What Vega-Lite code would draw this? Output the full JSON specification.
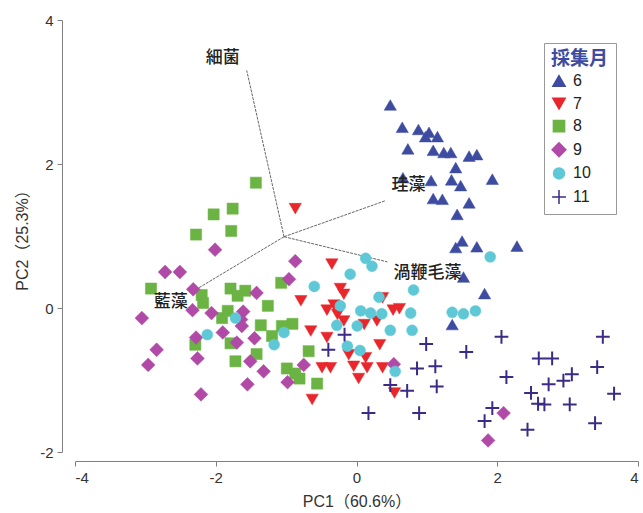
{
  "$schema": "https://vega.github.io/schema/vega-lite/v6.json",
  "width": 563,
  "height": 432,
  "autosize": "none",
  "padding": {"left": 75, "top": 20, "right": 5, "bottom": 61},
  "background": "white",
  "config": {
    "view": {"stroke": null},
    "axis": {
      "grid": false,
      "domainColor": "#808080",
      "tickColor": "#808080",
      "tickSize": 5,
      "labelFont": "Liberation Sans",
      "labelFontSize": 15,
      "labelColor": "#333333",
      "labelPadding": 4,
      "labelExpr": "toString(datum.value)",
      "titleFont": "Liberation Sans, Noto Sans CJK JP",
      "titleFontSize": 16,
      "titleFontWeight": "normal",
      "titleColor": "#333333"
    }
  },
  "datasets": {
    "pts": [
      {"m": "6", "x": 0.48, "y": 2.82}, {"m": "6", "x": 0.65, "y": 2.51}, {"m": "6", "x": 0.88, "y": 2.48},
      {"m": "6", "x": 1.03, "y": 2.44}, {"m": "6", "x": 0.98, "y": 2.38}, {"m": "6", "x": 1.15, "y": 2.38},
      {"m": "6", "x": 0.73, "y": 2.21}, {"m": "6", "x": 1.09, "y": 2.19}, {"m": "6", "x": 1.24, "y": 2.16},
      {"m": "6", "x": 1.34, "y": 2.16}, {"m": "6", "x": 1.60, "y": 2.11}, {"m": "6", "x": 1.71, "y": 2.13},
      {"m": "6", "x": 1.41, "y": 1.95}, {"m": "6", "x": 0.66, "y": 1.81}, {"m": "6", "x": 1.06, "y": 1.77},
      {"m": "6", "x": 1.35, "y": 1.78}, {"m": "6", "x": 1.48, "y": 1.70}, {"m": "6", "x": 1.93, "y": 1.79},
      {"m": "6", "x": 1.09, "y": 1.52}, {"m": "6", "x": 1.22, "y": 1.51}, {"m": "6", "x": 1.60, "y": 1.46},
      {"m": "6", "x": 1.43, "y": 1.30}, {"m": "6", "x": 1.50, "y": 0.93}, {"m": "6", "x": 1.41, "y": 0.84},
      {"m": "6", "x": 1.71, "y": 0.85}, {"m": "6", "x": 2.28, "y": 0.86}, {"m": "6", "x": 1.52, "y": 0.43},
      {"m": "6", "x": 1.82, "y": 0.20}, {"m": "6", "x": 1.36, "y": -0.23},
      {"m": "7", "x": -0.87, "y": 1.38}, {"m": "7", "x": -0.35, "y": 0.61}, {"m": "7", "x": -0.23, "y": 0.27},
      {"m": "7", "x": -0.18, "y": 0.19}, {"m": "7", "x": -0.79, "y": 0.10}, {"m": "7", "x": -0.42, "y": -0.03},
      {"m": "7", "x": -0.32, "y": 0.04}, {"m": "7", "x": -0.27, "y": -0.09}, {"m": "7", "x": -0.18, "y": -0.18},
      {"m": "7", "x": 0.37, "y": 0.14}, {"m": "7", "x": 0.52, "y": -0.03}, {"m": "7", "x": 0.61, "y": -0.01},
      {"m": "7", "x": 0.11, "y": -0.23}, {"m": "7", "x": 0.29, "y": -0.18}, {"m": "7", "x": -0.65, "y": -0.32},
      {"m": "7", "x": -0.42, "y": -0.41}, {"m": "7", "x": 0.33, "y": -0.51}, {"m": "7", "x": -0.11, "y": -0.65},
      {"m": "7", "x": 0.13, "y": -0.69}, {"m": "7", "x": -0.49, "y": -0.83}, {"m": "7", "x": -0.37, "y": -0.83},
      {"m": "7", "x": -0.04, "y": -0.81}, {"m": "7", "x": 0.15, "y": -0.83}, {"m": "7", "x": 0.37, "y": -0.83},
      {"m": "7", "x": 0.03, "y": -0.98}, {"m": "7", "x": 0.54, "y": -1.18}, {"m": "7", "x": -0.63, "y": -1.27},
      {"m": "8", "x": -1.43, "y": 1.74}, {"m": "8", "x": -1.76, "y": 1.38}, {"m": "8", "x": -2.03, "y": 1.30},
      {"m": "8", "x": -1.78, "y": 1.07}, {"m": "8", "x": -2.28, "y": 1.02}, {"m": "8", "x": -2.92, "y": 0.27},
      {"m": "8", "x": -1.07, "y": 0.35}, {"m": "8", "x": -1.79, "y": 0.27}, {"m": "8", "x": -1.58, "y": 0.24},
      {"m": "8", "x": -1.69, "y": 0.17}, {"m": "8", "x": -2.20, "y": 0.18}, {"m": "8", "x": -2.18, "y": 0.07},
      {"m": "8", "x": -1.26, "y": 0.03}, {"m": "8", "x": -1.83, "y": -0.04}, {"m": "8", "x": -1.91, "y": -0.14},
      {"m": "8", "x": -1.36, "y": -0.24}, {"m": "8", "x": -1.06, "y": -0.25}, {"m": "8", "x": -0.91, "y": -0.22},
      {"m": "8", "x": -1.20, "y": -0.39}, {"m": "8", "x": -2.29, "y": -0.51}, {"m": "8", "x": -1.79, "y": -0.49},
      {"m": "8", "x": -1.42, "y": -0.64}, {"m": "8", "x": -0.68, "y": -0.60}, {"m": "8", "x": -1.72, "y": -0.74},
      {"m": "8", "x": -0.99, "y": -0.84}, {"m": "8", "x": -0.87, "y": -0.91}, {"m": "8", "x": -0.81, "y": -0.98},
      {"m": "8", "x": -0.56, "y": -1.05},
      {"m": "9", "x": -2.01, "y": 0.81}, {"m": "9", "x": -2.72, "y": 0.50}, {"m": "9", "x": -2.51, "y": 0.50},
      {"m": "9", "x": -0.87, "y": 0.65}, {"m": "9", "x": -0.96, "y": 0.40}, {"m": "9", "x": -2.32, "y": 0.26},
      {"m": "9", "x": -1.42, "y": 0.21}, {"m": "9", "x": -2.33, "y": -0.03}, {"m": "9", "x": -2.06, "y": -0.07},
      {"m": "9", "x": -1.61, "y": -0.05}, {"m": "9", "x": -3.05, "y": -0.14}, {"m": "9", "x": -1.64, "y": -0.16},
      {"m": "9", "x": -1.63, "y": -0.25}, {"m": "9", "x": -1.90, "y": -0.34}, {"m": "9", "x": -2.28, "y": -0.41},
      {"m": "9", "x": -1.70, "y": -0.48}, {"m": "9", "x": -1.45, "y": -0.42}, {"m": "9", "x": -2.84, "y": -0.58},
      {"m": "9", "x": -2.26, "y": -0.70}, {"m": "9", "x": -1.51, "y": -0.74}, {"m": "9", "x": -2.96, "y": -0.79},
      {"m": "9", "x": -1.32, "y": -0.88}, {"m": "9", "x": -0.75, "y": -0.79}, {"m": "9", "x": -0.98, "y": -1.03},
      {"m": "9", "x": -1.55, "y": -1.06}, {"m": "9", "x": -2.21, "y": -1.20}, {"m": "9", "x": 2.09, "y": -1.46},
      {"m": "9", "x": 1.87, "y": -1.84}, {"m": "9", "x": 0.53, "y": -0.78},
      {"m": "10", "x": 0.13, "y": 0.69}, {"m": "10", "x": 0.22, "y": 0.58}, {"m": "10", "x": -0.09, "y": 0.47},
      {"m": "10", "x": -0.60, "y": 0.30}, {"m": "10", "x": 0.81, "y": 0.25}, {"m": "10", "x": 0.32, "y": 0.15},
      {"m": "10", "x": -0.23, "y": 0.03}, {"m": "10", "x": 0.06, "y": -0.04}, {"m": "10", "x": 0.20, "y": -0.07},
      {"m": "10", "x": 0.36, "y": -0.08}, {"m": "10", "x": 0.77, "y": -0.07}, {"m": "10", "x": -0.28, "y": -0.24},
      {"m": "10", "x": 0.01, "y": -0.25}, {"m": "10", "x": 0.48, "y": -0.31}, {"m": "10", "x": 0.79, "y": -0.31},
      {"m": "10", "x": -0.13, "y": -0.53}, {"m": "10", "x": 0.05, "y": -0.59}, {"m": "10", "x": 0.55, "y": -0.88},
      {"m": "10", "x": 1.36, "y": -0.06}, {"m": "10", "x": 1.52, "y": -0.08}, {"m": "10", "x": 1.69, "y": -0.04},
      {"m": "10", "x": 1.90, "y": 0.71}, {"m": "10", "x": -1.72, "y": -0.14}, {"m": "10", "x": -2.12, "y": -0.37},
      {"m": "10", "x": -1.17, "y": -0.51}, {"m": "10", "x": -1.03, "y": -0.34},
      {"m": "11", "x": -0.17, "y": -0.37}, {"m": "11", "x": -0.40, "y": -0.58}, {"m": "11", "x": 0.99, "y": -0.50},
      {"m": "11", "x": 1.56, "y": -0.61}, {"m": "11", "x": 0.86, "y": -0.84}, {"m": "11", "x": 1.12, "y": -0.81},
      {"m": "11", "x": 0.48, "y": -1.07}, {"m": "11", "x": 0.72, "y": -1.15}, {"m": "11", "x": 1.14, "y": -1.09},
      {"m": "11", "x": 0.17, "y": -1.46}, {"m": "11", "x": 0.89, "y": -1.46}, {"m": "11", "x": 2.06, "y": -0.40},
      {"m": "11", "x": 3.50, "y": -0.40}, {"m": "11", "x": 2.59, "y": -0.70}, {"m": "11", "x": 2.78, "y": -0.70},
      {"m": "11", "x": 3.42, "y": -0.82}, {"m": "11", "x": 2.13, "y": -0.96}, {"m": "11", "x": 2.94, "y": -1.01},
      {"m": "11", "x": 3.06, "y": -0.92}, {"m": "11", "x": 2.73, "y": -1.06}, {"m": "11", "x": 2.48, "y": -1.18},
      {"m": "11", "x": 3.66, "y": -1.19}, {"m": "11", "x": 2.58, "y": -1.33}, {"m": "11", "x": 2.67, "y": -1.34},
      {"m": "11", "x": 3.03, "y": -1.34}, {"m": "11", "x": 1.93, "y": -1.39}, {"m": "11", "x": 1.82, "y": -1.57},
      {"m": "11", "x": 2.43, "y": -1.69}, {"m": "11", "x": 3.39, "y": -1.60}
    ],
    "arrows": [
      {"x": -1.03, "y": 0.99, "x2": -1.56, "y2": 3.30},
      {"x": -1.03, "y": 0.99, "x2": 0.41, "y2": 1.49},
      {"x": -1.03, "y": 0.99, "x2": 0.44, "y2": 0.64},
      {"x": -1.03, "y": 0.99, "x2": -2.36, "y2": 0.21}
    ],
    "labels": [
      {"x": -1.90, "y": 3.47, "t": "細菌"},
      {"x": 0.74, "y": 1.71, "t": "珪藻"},
      {"x": 1.01, "y": 0.49, "t": "渦鞭毛藻"},
      {"x": -2.64, "y": 0.08, "t": "藍藻"}
    ]
  },
  "encoding": {
    "x": {"field": "x", "type": "quantitative",
      "scale": {"domain": [-4, 4], "nice": false, "zero": false},
      "axis": {"title": "PC1（60.6%）", "values": [-4, -2, 0, 2, 4], "offset": 9, "titlePadding": 8}},
    "y": {"field": "y", "type": "quantitative",
      "scale": {"domain": [-2, 4], "nice": false, "zero": false},
      "axis": {"title": "PC2（25.3%）", "values": [-2, 0, 2, 4], "offset": 13, "titlePadding": 9}}
  },
  "layer": [
    {
      "data": {"name": "arrows"},
      "mark": {"type": "rule", "color": "#666666", "strokeWidth": 1, "strokeDash": [3, 1]},
      "encoding": {"x2": {"field": "x2"}, "y2": {"field": "y2"}}
    },
    {
      "data": {"name": "pts"},
      "mark": {"type": "point", "filled": true, "opacity": 1},
      "encoding": {
        "color": {"field": "m", "type": "ordinal",
          "scale": {"type": "ordinal", "domain": ["6", "7", "8", "9", "10", "11"],
            "range": ["#3d4ba0", "#e8262b", "#6bb444", "#b04aa6", "#5ec8d6", "#3b2b85"]},
          "legend": {"title": "採集月", "orient": "none", "legendX": 469, "legendY": 23,
            "strokeColor": "#999999", "fillColor": "white", "padding": 7,
            "titleFont": "Noto Sans CJK JP", "titleFontSize": 19, "titleFontWeight": "bold",
            "titleColor": "#3d4ba0", "titlePadding": 4,
            "labelFont": "Liberation Sans", "labelFontSize": 16, "labelColor": "#222222",
            "labelOffset": 6, "rowPadding": 4.6, "symbolStrokeWidth": 1.5}},
        "stroke": {"field": "m", "type": "ordinal",
          "scale": {"type": "ordinal", "domain": ["6", "7", "8", "9", "10", "11"],
            "range": ["#3d4ba0", "#e8262b", "#6bb444", "#b04aa6", "#5ec8d6", "#3b2b85"]},
          "legend": {"title": "採集月", "orient": "none", "legendX": 469, "legendY": 23}},
        "shape": {"field": "m", "type": "ordinal",
          "scale": {"type": "ordinal", "domain": ["6", "7", "8", "9", "10", "11"],
            "range": ["triangle-up", "triangle-down", "square", "diamond", "circle", "M-1,0L1,0M0,-1L0,1"]},
          "legend": {"title": "採集月", "orient": "none", "legendX": 469, "legendY": 23}},
        "size": {"field": "m", "type": "ordinal",
          "scale": {"type": "ordinal", "domain": ["6", "7", "8", "9", "10", "11"],
            "range": [150, 150, 125, 190, 120, 190]},
          "legend": {"title": "採集月", "orient": "none", "legendX": 469, "legendY": 23}},
        "strokeWidth": {"condition": {"test": "datum.m === '11'", "value": 2}, "value": 0.5}
      }
    },
    {
      "data": {"name": "labels"},
      "mark": {"type": "text", "font": "Noto Sans CJK JP", "fontSize": 17, "fontWeight": 500, "color": "#222222",
        "align": "center", "baseline": "middle"},
      "encoding": {"text": {"field": "t"}}
    }
  ]
}
